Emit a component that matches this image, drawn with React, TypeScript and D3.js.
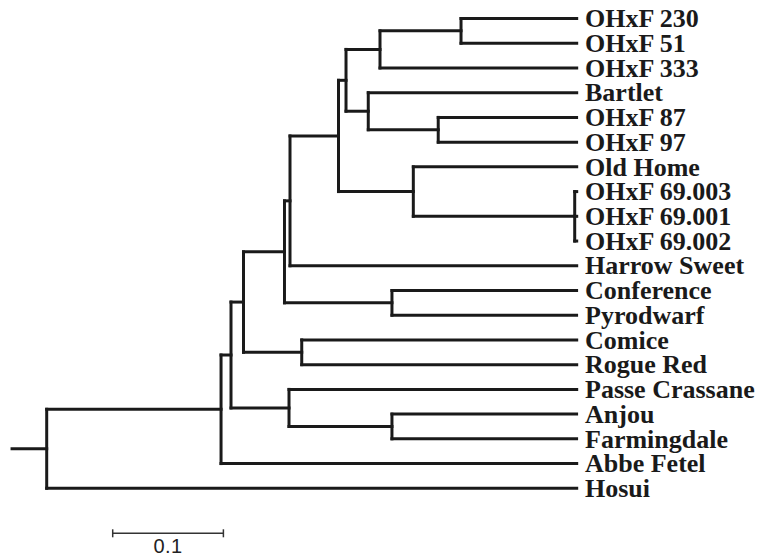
import React from "react";
import * as d3 from "d3";

// Leaf labels in display order (top to bottom)
const leafNames = [
  "OHxF 230",
  "OHxF 51",
  "OHxF 333",
  "Bartlet",
  "OHxF 87",
  "OHxF 97",
  "Old Home",
  "OHxF 69.003",
  "OHxF 69.001",
  "OHxF 69.002",
  "Harrow Sweet",
  "Conference",
  "Pyrodwarf",
  "Comice",
  "Rogue Red",
  "Passe Crassane",
  "Anjou",
  "Farmingdale",
  "Abbe Fetel",
  "Hosui",
];

// Tree edges: [child, parent, branch length]
const edges: [string, string, number][] = [
  ["Hosui", "R", 0.4788],
  ["A", "R", 0.1575],
  ["Abbe Fetel", "A", 0.3213],
  ["B", "A", 0.009],
  ["C", "B", 0.0113],
  ["D", "B", 0.0524],
  ["Passe Crassane", "D", 0.2599],
  ["E", "D", 0.093],
  ["Anjou", "E", 0.1668],
  ["Farmingdale", "E", 0.1668],
  ["F", "C", 0.037],
  ["CR", "C", 0.0526],
  ["Comice", "CR", 0.2484],
  ["Rogue Red", "CR", 0.2484],
  ["G", "F", 0.005],
  ["CP", "F", 0.0971],
  ["Conference", "CP", 0.1668],
  ["Pyrodwarf", "CP", 0.1668],
  ["H", "G", 0.0438],
  ["Harrow Sweet", "G", 0.259],
  ["I", "H", 0.0068],
  ["OH", "H", 0.0676],
  ["Old Home", "OH", 0.1476],
  ["S69", "OH", 0.1458],
  ["OHxF 69.003", "S69", 0.0018],
  ["OHxF 69.001", "S69", 0.0018],
  ["OHxF 69.002", "S69", 0.0018],
  ["J", "I", 0.0307],
  ["K", "I", 0.0201],
  ["L", "J", 0.0732],
  ["OHxF 333", "J", 0.1777],
  ["OHxF 230", "L", 0.1045],
  ["OHxF 51", "L", 0.1045],
  ["Bartlet", "K", 0.1883],
  ["M", "K", 0.0632],
  ["OHxF 87", "M", 0.125],
  ["OHxF 97", "M", 0.125],
];

const rootStub = 0.0313;
const scaleBarValue = 0.1;
const scaleBarLabel = "0.1";

type Row = { id: string; parentId: string | null; length: number };

export default function App() {
  const width = 767;
  const height = 557;
  const ink = "#1a1a1a";

  const rows: Row[] = [
    { id: "R", parentId: null, length: 0 },
    ...edges.map(([id, parentId, length]) => ({ id, parentId, length })),
  ];
  const root = d3
    .stratify<Row>()
    .id((d) => d.id)
    .parentId((d) => d.parentId)(rows);

  // cumulative distance from the root
  const dist = new Map<string, number>();
  root.eachBefore((n) => {
    const p = n.parent ? dist.get(n.parent.id!)! : 0;
    dist.set(n.id!, p + n.data.length);
  });
  const maxDist = d3.max(root.leaves(), (l) => dist.get(l.id!)!)!;

  const x = d3.scaleLinear().domain([0, maxDist]).range([46.7, 576.7]);
  const yLeaf = d3.scalePoint<string>().domain(leafNames).range([18.5, 488.3]);

  const yPos = new Map<string, number>();
  root.eachAfter((n) => {
    if (!n.children) {
      yPos.set(n.id!, yLeaf(n.id!)!);
    } else {
      const ys = n.children.map((c) => yPos.get(c.id!)!);
      yPos.set(n.id!, (d3.min(ys)! + d3.max(ys)!) / 2);
    }
  });

  const segs: { x1: number; y1: number; x2: number; y2: number }[] = [];
  root.each((n) => {
    const nx = x(dist.get(n.id!)!);
    const ny = yPos.get(n.id!)!;
    if (n.parent) {
      segs.push({ x1: x(dist.get(n.parent.id!)!), y1: ny, x2: nx, y2: ny });
    } else {
      segs.push({ x1: x(-rootStub), y1: ny, x2: nx, y2: ny });
    }
    if (n.children) {
      const ys = n.children.map((c) => yPos.get(c.id!)!);
      segs.push({ x1: nx, y1: d3.min(ys)!, x2: nx, y2: d3.max(ys)! });
    }
  });

  const barX0 = 112.7;
  const barX1 = barX0 + (x(scaleBarValue) - x(0));
  const barY = 533.3;

  return (
    <svg
      width={width}
      height={height}
      style={{ position: "absolute", left: 0, top: 0, background: "#fff" }}
    >
      <g stroke={ink} strokeWidth={3} strokeLinecap="square" fill="none">
        {segs.map((s, i) => (
          <line key={i} x1={s.x1} y1={s.y1} x2={s.x2} y2={s.y2} />
        ))}
      </g>
      <g
        fontFamily="'Liberation Serif', 'Times New Roman', serif"
        fontWeight="bold"
        fontSize={26}
        fill={ink}
      >
        {root.leaves().map((l) => (
          <text key={l.id} x={585} y={yPos.get(l.id!)! + 8.7}>
            {l.id}
          </text>
        ))}
      </g>
      <g stroke="#333" strokeWidth={1.5}>
        <line x1={barX0} y1={barY} x2={barX1} y2={barY} />
        <line x1={barX0} y1={barY - 4} x2={barX0} y2={barY + 4} />
        <line x1={barX1} y1={barY - 4} x2={barX1} y2={barY + 4} />
      </g>
      <text
        x={(barX0 + barX1) / 2}
        y={553}
        textAnchor="middle"
        fontFamily="'Liberation Sans', Arial, sans-serif"
        fontSize={20}
        letterSpacing={0.5}
        fill="#222"
      >
        {scaleBarLabel}
      </text>
    </svg>
  );
}
